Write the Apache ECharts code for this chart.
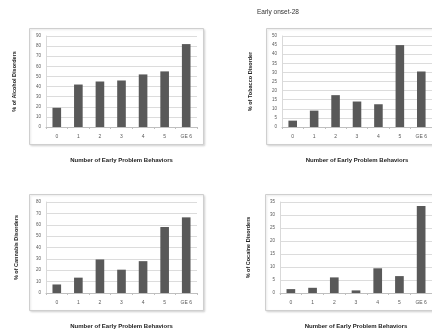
<!DOCTYPE html>
<html><head><meta charset="utf-8">
<script src="https://cdn.jsdelivr.net/npm/echarts@6/dist/echarts.min.js"></script>
<style>html,body{margin:0;padding:0;background:#fff}#c{width:432px;height:333px}</style>
</head><body><div id="c"></div>
<script>
var categories = ['0','1','2','3','4','5','GE 6'];
var alcohol = [19, 42, 45, 46, 52, 55, 82];
var tobacco = [3.5, 9, 17.5, 14, 12.5, 45, 30.5];
var cannabis = [7.5, 13.5, 29.5, 20.5, 28, 58, 66.5];
var cocaine = [1.5, 2, 6, 1, 9.5, 6.5, 33.5];
var yNames = ['% of Alcohol Disorders', '% of Tobacco Disorder', '% of Cannabis Disorders', '% of Cocaine Disorders'];
var yMax = [90, 50, 80, 35];
var yStep = [10, 5, 10, 5];
var xName = 'Number of Early Problem Behaviors';
var titleText = 'Early onset-28';

var seriesData = [alcohol, tobacco, cannabis, cocaine];
var grids = [
  {left: 46, top: 36, width: 151, height: 91},
  {left: 282, top: 36, width: 151, height: 91},
  {left: 46, top: 202, width: 151, height: 91},
  {left: 280, top: 202, width: 153, height: 91}
];
var frames = [
  {x: 29.5, y: 28.5, w: 174, h: 116},
  {x: 266.5, y: 28.5, w: 180, h: 116},
  {x: 29.5, y: 194.5, w: 174, h: 116},
  {x: 265.5, y: 194.5, w: 180, h: 116}
];
var yGaps = [29, 29, 27, 29];
var font = 'Liberation Sans, Arial, sans-serif';
var chart = echarts.init(document.getElementById('c'), null, {renderer: 'canvas'});
var xAxes = [], yAxes = [], series = [];
for (var i = 0; i < 4; i++) {
  xAxes.push({
    gridIndex: i, type: 'category', data: categories,
    name: xName, nameLocation: 'middle', nameGap: 30,
    nameTextStyle: {fontFamily: font, fontWeight: 'bold', fontSize: 6, color: '#222'},
    axisLine: {lineStyle: {color: '#bfbfbf', width: 1}},
    axisTick: {show: true, length: 2, lineStyle: {color: '#bfbfbf'}},
    axisLabel: {fontFamily: font, fontSize: 5, color: '#595959', margin: 7}
  });
  yAxes.push({
    gridIndex: i, type: 'value', min: 0, max: yMax[i], interval: yStep[i],
    name: yNames[i], nameLocation: 'middle', nameGap: yGaps[i], nameRotate: 90,
    nameTextStyle: {fontFamily: font, fontWeight: 'bold', fontSize: 5.5, color: '#222'},
    axisLine: {show: true, lineStyle: {color: '#d9d9d9'}},
    axisTick: {show: false},
    splitLine: {lineStyle: {color: '#dcdcdc', width: 1}},
    axisLabel: {fontFamily: font, fontSize: 4.5, color: '#595959', margin: 5}
  });
  series.push({
    type: 'bar', xAxisIndex: i, yAxisIndex: i, data: seriesData[i],
    barWidth: '40%', itemStyle: {color: '#595959'}, silent: true
  });
}
var graphics = frames.map(function (f) {
  return {type: 'rect', z: -1, shape: {x: f.x, y: f.y, width: f.w, height: f.h},
    style: {fill: '#fff', stroke: '#cfcfcf', lineWidth: 1, shadowBlur: 2, shadowColor: 'rgba(0,0,0,0.12)', shadowOffsetX: 1, shadowOffsetY: 1}};
});
chart.setOption({
  animation: false,
  backgroundColor: '#fff',
  title: {text: titleText, left: 257, top: 9, padding: 0, textStyle: {fontFamily: font, fontSize: 6.5, fontWeight: 'normal', color: '#333'}},
  graphic: graphics,
  grid: grids,
  xAxis: xAxes,
  yAxis: yAxes,
  series: series
});
</script></body></html>
